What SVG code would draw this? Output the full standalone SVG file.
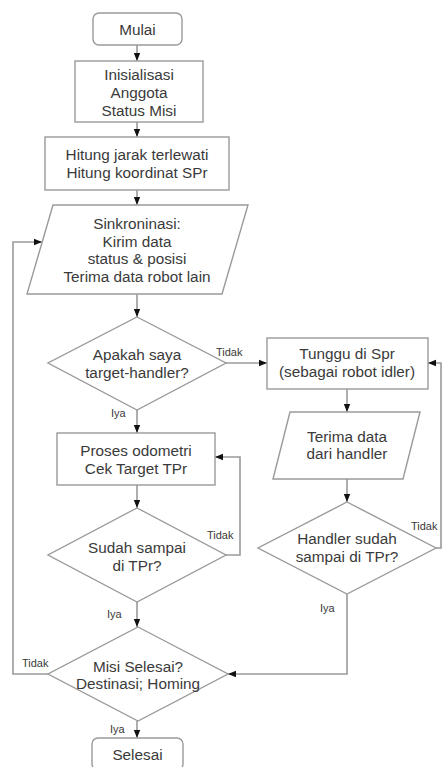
<svg xmlns="http://www.w3.org/2000/svg" width="442" height="767" viewBox="0 0 442 767">
<style>
.s{fill:#fff;stroke:#9a9a9a;stroke-width:1.4}
.t{font-family:"Liberation Sans",Arial,sans-serif;font-size:15.3px;fill:#3a3a3a;text-anchor:middle}
.l{font-family:"Liberation Sans",Arial,sans-serif;font-size:11px;fill:#3a3a3a}
.c{fill:none;stroke:#9a9a9a;stroke-width:1.6}
</style>
<defs>
<marker id="a" viewBox="0 0 8 8" refX="8" refY="4" markerWidth="8" markerHeight="8" markerUnits="userSpaceOnUse" orient="auto">
<path d="M0,0.8 L8,4 L0,7.2 Z" fill="#111"/>
</marker>
</defs>
<rect width="442" height="767" fill="#fff"/>
<g id="connectors">
<path class="c" d="M137,45 V61" marker-end="url(#a)"/>
<path class="c" d="M137,122 V137" marker-end="url(#a)"/>
<path class="c" d="M137,190 V205" marker-end="url(#a)"/>
<path class="c" d="M137,294 V317" marker-end="url(#a)"/>
<path class="c" d="M226,363 H267" marker-end="url(#a)"/>
<path class="c" d="M137,410 V433" marker-end="url(#a)"/>
<path class="c" d="M137,485 V508" marker-end="url(#a)"/>
<path class="c" d="M226,555 H240 V457 H215" marker-end="url(#a)"/>
<path class="c" d="M137,602 V627" marker-end="url(#a)"/>
<path class="c" d="M137,721 V738" marker-end="url(#a)"/>
<path class="c" d="M48,674 H13 V242 H42" marker-end="url(#a)"/>
<path class="c" d="M347,389 V412" marker-end="url(#a)"/>
<path class="c" d="M347,479 V502" marker-end="url(#a)"/>
<path class="c" d="M436,548 H441 V363 H428" marker-end="url(#a)"/>
<path class="c" d="M347,594 V674 H228" marker-end="url(#a)"/>
<text class="l" x="216" y="356">Tidak</text>
<text class="l" x="111" y="417">Iya</text>
<text class="l" x="207" y="539">Tidak</text>
<text class="l" x="411" y="530">Tidak</text>
<text class="l" x="320" y="612">Iya</text>
<text class="l" x="107" y="618">Iya</text>
<text class="l" x="22" y="667">Tidak</text>
<text class="l" x="110" y="733">Iya</text>
</g>
<g id="mulai">
<rect class="s" x="93" y="13" width="89" height="32" rx="6"/>
<text class="t" x="137.5" y="34.5">Mulai</text>
</g>
<g id="inisialisasi">
<rect class="s" x="75" y="61" width="128" height="61"/>
<text class="t" x="139" y="79.5">Inisialisasi</text>
<text class="t" x="139" y="97.5">Anggota</text>
<text class="t" x="139" y="115.5">Status Misi</text>
</g>
<g id="hitung">
<rect class="s" x="45" y="137" width="184" height="53"/>
<text class="t" x="137" y="159.5">Hitung jarak terlewati</text>
<text class="t" x="137" y="177.5">Hitung koordinat SPr</text>
</g>
<g id="sinkronisasi">
<polygon class="s" points="53,205 248,205 222,294 27,294"/>
<text class="t" x="137" y="229">Sinkroninasi:</text>
<text class="t" x="137" y="246.5">Kirim data</text>
<text class="t" x="137" y="264">status &amp; posisi</text>
<text class="t" x="137" y="281.5">Terima data robot lain</text>
</g>
<g id="cek-handler">
<polygon class="s" points="137,317 226,363 137,410 48,363"/>
<text class="t" x="137" y="359.5">Apakah saya</text>
<text class="t" x="137" y="377.5">target-handler?</text>
</g>
<g id="tunggu">
<rect class="s" x="267" y="338" width="161" height="51"/>
<text class="t" x="347" y="358.5">Tunggu di Spr</text>
<text class="t" x="347" y="377">(sebagai robot idler)</text>
</g>
<g id="terima">
<polygon class="s" points="290,412 420,412 403,479 273,479"/>
<text class="t" x="347" y="441.5">Terima data</text>
<text class="t" x="347" y="458.5">dari handler</text>
</g>
<g id="handler-sampai">
<polygon class="s" points="347,502 436,548 347,594 258,548"/>
<text class="t" x="347" y="543.5">Handler sudah</text>
<text class="t" x="347" y="562">sampai di TPr?</text>
</g>
<g id="proses">
<rect class="s" x="57" y="433" width="158" height="52"/>
<text class="t" x="136" y="455.5">Proses odometri</text>
<text class="t" x="136" y="473.5">Cek Target TPr</text>
</g>
<g id="sudah-sampai">
<polygon class="s" points="137,508 226,555 137,602 48,555"/>
<text class="t" x="137" y="553">Sudah sampai</text>
<text class="t" x="137" y="570.5">di TPr?</text>
</g>
<g id="misi-selesai">
<polygon class="s" points="138,627 228,674 138,721 48,674"/>
<text class="t" x="138" y="672">Misi Selesai?</text>
<text class="t" x="138" y="689">Destinasi; Homing</text>
</g>
<g id="selesai">
<rect class="s" x="92" y="738" width="91" height="32" rx="6"/>
<text class="t" x="137.5" y="759.5">Selesai</text>
</g>
</svg>
